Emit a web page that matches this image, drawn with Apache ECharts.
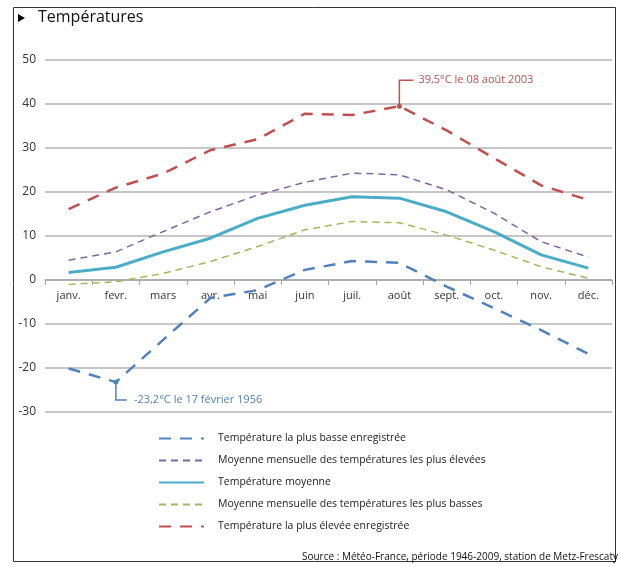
<!DOCTYPE html>
<html>
<head>
<meta charset="utf-8">
<script src="https://cdn.jsdelivr.net/npm/echarts@6/dist/echarts.min.js"></script>
<style>
  html, body { margin: 0; padding: 0; background: #fff; }
  #chart { width: 621px; height: 567px; }
</style>
</head>
<body>
<div id="chart"></div>
<script>
// Data
var months = ['janv.', 'fevr.', 'mars', 'avr.', 'mai', 'juin', 'juil.', 'août', 'sept.', 'oct.', 'nov.', 'déc.'];
var recordLow = [-20.1, -23.2, -13.6, -4.1, -2.3, 2.3, 4.3, 3.9, -1.5, -6.4, -11.4, -16.8];
var meanHigh = [4.5, 6.4, 11.0, 15.5, 19.3, 22.2, 24.3, 23.9, 20.5, 15.2, 8.7, 5.2];
var meanTemp = [1.7, 2.9, 6.4, 9.5, 14.0, 17.0, 18.9, 18.6, 15.5, 11.0, 5.7, 2.7];
var meanLow = [-1.0, -0.4, 1.5, 4.2, 7.6, 11.4, 13.3, 13.0, 10.2, 6.8, 3.0, 0.4];
var recordHigh = [16.1, 21.0, 24.2, 29.5, 32.0, 37.8, 37.5, 39.5, 34.0, 27.7, 21.5, 18.2];
var seriesNames = [
  'Température la plus basse enregistrée',
  'Moyenne mensuelle des températures les plus élevées',
  'Température moyenne',
  'Moyenne mensuelle des températures les plus basses',
  'Température la plus élevée enregistrée'
];
var lowNote = { month: 1, text: '-23,2°C le 17 février 1956' };
var highNote = { month: 7, text: '39,5°C le 08 août 2003' };

var FONT = '"Open Sans", Lato, sans-serif';
var colors = ['#4F81BD', '#8064A2', '#4BACC6', '#9BBB59', '#C0504D'];

var chart = echarts.init(document.getElementById('chart'), null, { renderer: 'canvas' });

function lineSeries(name, data, color, width, dash) {
  return {
    name: name,
    type: 'line',
    data: data,
    symbol: 'none',
    smooth: false,
    lineStyle: { color: color, width: width, type: dash || 'solid' },
    itemStyle: { color: color },
    emphasis: { disabled: true }
  };
}

var option = {
  animation: false,
  textStyle: { fontFamily: FONT },
  grid: { left: 45, right: 9, top: 60, bottom: 155 },
  xAxis: {
    type: 'category',
    data: months,
    boundaryGap: true,
    position: 'bottom',
    axisLine: { onZero: false, lineStyle: { color: '#a6a6a6', width: 1.5 } },
    axisTick: { show: true, alignWithLabel: false, length: 5, lineStyle: { color: '#a6a6a6' } },
    axisLabel: { color: '#333', fontSize: 11, margin: 10, fontFamily: FONT }
  },
  yAxis: {
    type: 'value',
    min: -30,
    max: 50,
    interval: 10,
    axisLine: { show: false },
    axisTick: { show: false },
    axisLabel: { color: '#333', fontSize: 12, margin: 9, fontFamily: FONT },
    splitLine: { lineStyle: { color: '#b3b3b3', width: 1.5 } }
  },
  legend: {
    orient: 'vertical',
    left: 153,
    top: 428,
    itemWidth: 45,
    itemHeight: 12,
    itemGap: 11,
    itemStyle: { opacity: 0 },
    textStyle: { fontSize: 10.5, color: '#222', fontFamily: FONT, padding: [0, 0, 0, 9] },
    data: seriesNames
  },
  series: [
    lineSeries(seriesNames[0], recordLow, colors[0], 2.5, [12, 9]),
    lineSeries(seriesNames[1], meanHigh, colors[1], 1.5, [7, 5]),
    lineSeries(seriesNames[2], meanTemp, colors[2], 3),
    lineSeries(seriesNames[3], meanLow, colors[3], 1.5, [7, 5]),
    lineSeries(seriesNames[4], recordHigh, colors[4], 2.5, [12, 9])
  ]
};

chart.setOption(option);

// Move the category axis onto the zero line, measured through the value axis
var zeroY = chart.convertToPixel({ yAxisIndex: 0 }, 0);
var bottomY = chart.convertToPixel({ yAxisIndex: 0 }, -30);
chart.setOption({ xAxis: { offset: -(bottomY - zeroY) } });

// Annotations placed from the data through the axes
var lowPt = chart.convertToPixel({ seriesIndex: 0 }, [lowNote.month, recordLow[lowNote.month]]);
var highPt = chart.convertToPixel({ seriesIndex: 4 }, [highNote.month, recordHigh[highNote.month]]);

chart.setOption({
  graphic: [
    { type: 'rect', shape: { x: 13.5, y: 7.5, width: 602, height: 554 },
      style: { fill: 'none', stroke: '#333', lineWidth: 1 }, silent: true, z: 0 },
    { type: 'polygon', shape: { points: [[18, 14], [18, 22], [25, 18]] }, style: { fill: '#000' } },
    { type: 'text', left: 38, top: 9, style: { text: 'Températures', fontSize: 16, fill: '#111', fontFamily: FONT } },
    { type: 'polyline', shape: { points: [[lowPt[0], lowPt[1]], [lowPt[0], lowPt[1] + 18], [lowPt[0] + 11, lowPt[1] + 18]] },
      style: { stroke: colors[0], lineWidth: 1.5, fill: 'none' }, z: 10 },
    { type: 'circle', shape: { cx: lowPt[0], cy: lowPt[1], r: 2.5 }, style: { fill: colors[0] }, z: 10 },
    { type: 'text', x: lowPt[0] + 18, y: lowPt[1] + 18,
      style: { text: lowNote.text, fontSize: 11, fill: colors[0], fontFamily: FONT, verticalAlign: 'middle' }, z: 10 },
    { type: 'polyline', shape: { points: [[highPt[0], highPt[1]], [highPt[0], highPt[1] - 26], [highPt[0] + 14, highPt[1] - 26]] },
      style: { stroke: colors[4], lineWidth: 1.5, fill: 'none' }, z: 10 },
    { type: 'circle', shape: { cx: highPt[0], cy: highPt[1], r: 2.5 }, style: { fill: colors[4] }, z: 10 },
    { type: 'text', x: highPt[0] + 19, y: highPt[1] - 26,
      style: { text: highNote.text, fontSize: 11, fill: colors[4], fontFamily: FONT, verticalAlign: 'middle' }, z: 10 },
    { type: 'text', right: 3, top: 552,
      style: { text: 'Source : Météo-France, période 1946-2009, station de Metz-Frescaty', fontSize: 10, fill: '#111', fontFamily: FONT } }
  ]
});
</script>
</body>
</html>
